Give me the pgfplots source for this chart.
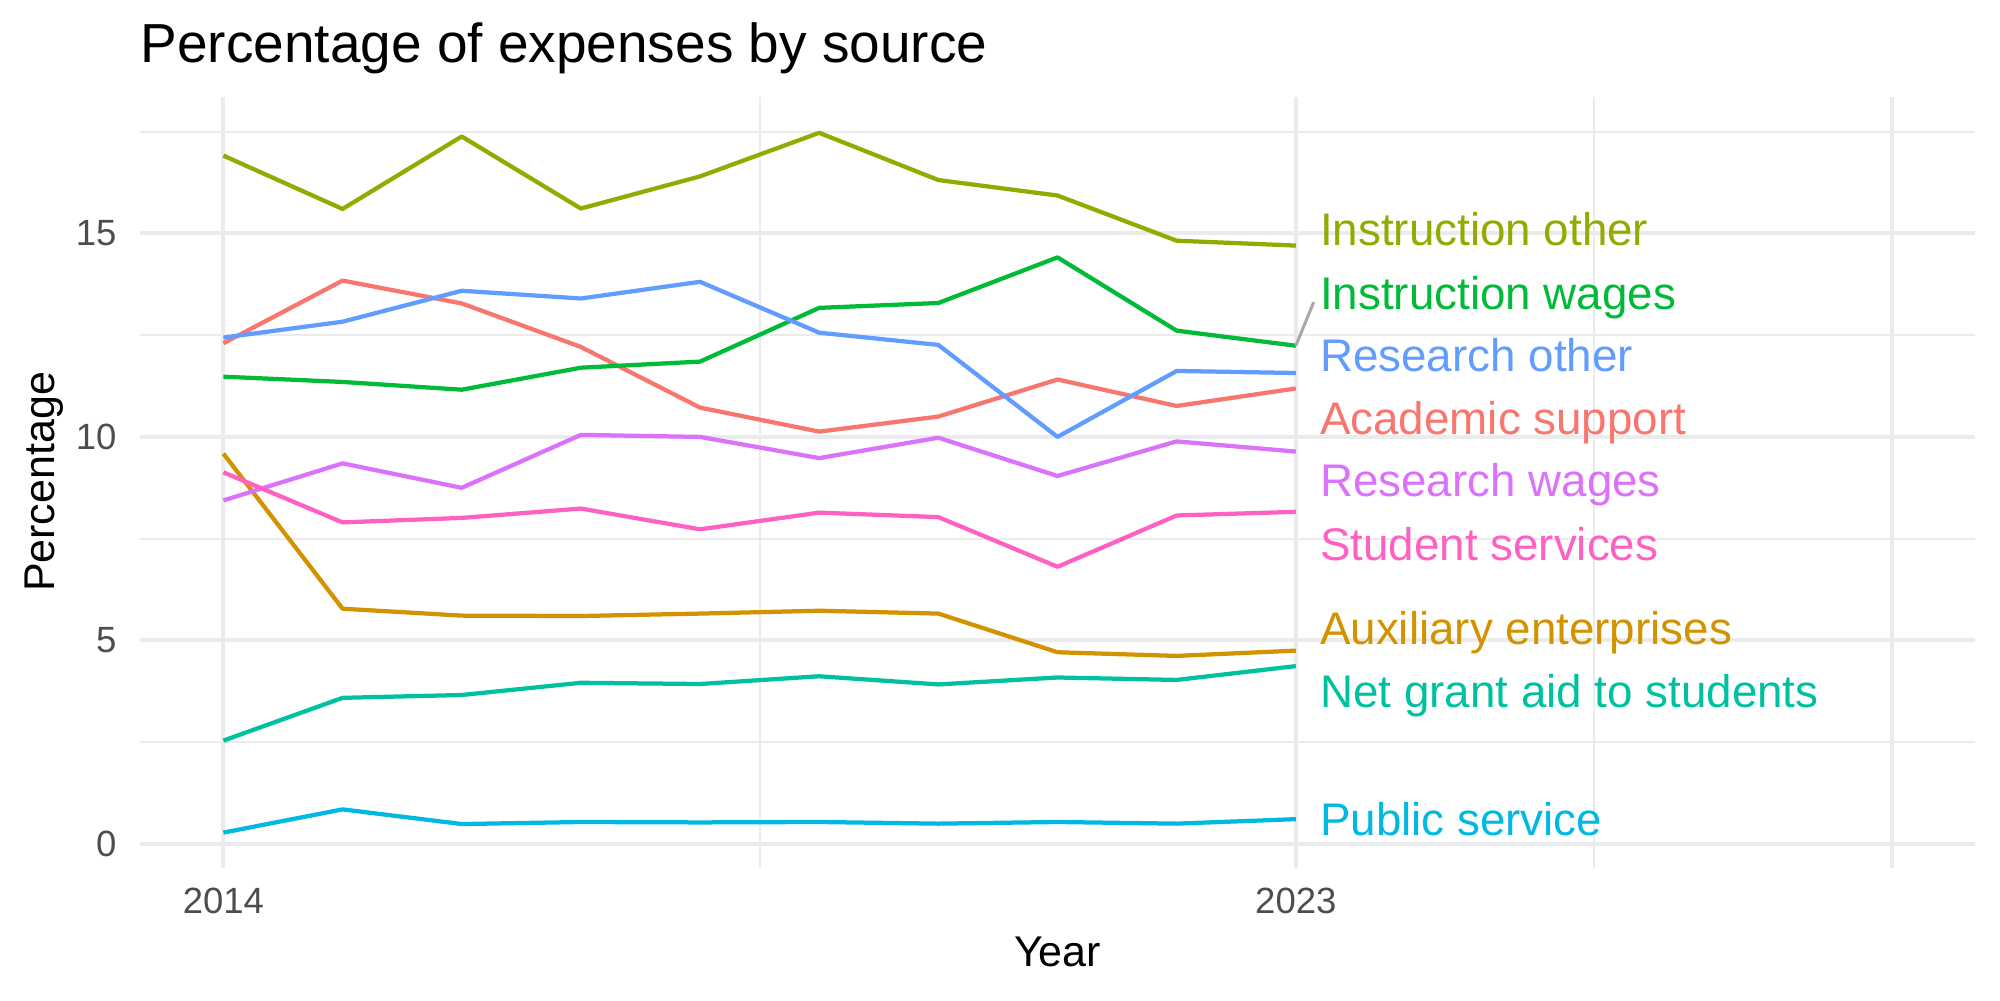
\documentclass[border=0pt]{standalone}
\usepackage{fontspec}
\setmainfont{Liberation Sans}
\usepackage{pgfplots}
\usepackage{pgfplotstable}
\pgfplotsset{compat=1.18}

% ggplot hue palette, one colour per expense source
\definecolor{acad}{HTML}{F8766D}
\definecolor{aux}{HTML}{D39200}
\definecolor{instoth}{HTML}{93AA00}
\definecolor{instwage}{HTML}{00BA38}
\definecolor{netgrant}{HTML}{00C19F}
\definecolor{pubserv}{HTML}{00B9E3}
\definecolor{resoth}{HTML}{619CFF}
\definecolor{reswage}{HTML}{DB72FB}
\definecolor{studserv}{HTML}{FF61C3}
\definecolor{gridgray}{HTML}{EBEBEB}
\definecolor{tickgray}{HTML}{4D4D4D}
\definecolor{repelgray}{HTML}{A8A8A8}

% Share of expenses (%) by source and year
\pgfplotstableread{
year acad  aux  instoth instwage netgrant pubserv resoth reswage studserv
2014 12.30 9.59 16.91   11.48    2.54     0.28    12.44  8.44    9.13
2015 13.84 5.78 15.60   11.35    3.59     0.85    12.83  9.35    7.90
2016 13.28 5.61 17.38   11.16    3.66     0.49    13.59  8.75    8.01
2017 12.21 5.60 15.61   11.70    3.96     0.54    13.40  10.05   8.24
2018 10.72 5.66 16.40   11.85    3.93     0.53    13.81  10.00   7.73
2019 10.13 5.73 17.47   13.17    4.12     0.54    12.56  9.48    8.14
2020 10.50 5.66 16.31   13.29    3.92     0.50    12.26  9.98    8.03
2021 11.41 4.71 15.93   14.41    4.09     0.54    10.00  9.04    6.81
2022 10.76 4.62 14.82   12.61    4.03     0.50    11.62  9.89    8.07
2023 11.19 4.75 14.70   12.24    4.37     0.61    11.57  9.64    8.16
}\expenses

\newcommand{\labfont}{\fontsize{18.3}{21}\selectfont}
\newcommand{\tickfont}{\fontsize{14.6}{17}\selectfont}

\begin{document}
\begin{tikzpicture}
\path[use as bounding box] (0pt,0pt) rectangle (800pt,400pt);
\begin{axis}[
  at={(56pt,52.8pt)}, anchor=south west,
  scale only axis, width=734pt, height=308.4pt,
  xmin=2013.3, xmax=2028.7, ymin=-0.59, ymax=18.35,
  clip=false,
  axis line style={draw=none},
  major tick length=0pt, minor tick length=0pt,
  xtick={2014,2023,2028}, xticklabels={2014,2023,},
  minor xtick={2018.5,2025.5},
  ytick={0,5,10,15},
  minor ytick={2.5,7.5,12.5,17.5},
  grid=both,
  major grid style={draw=gridgray, line width=1.6pt},
  minor grid style={draw=gridgray, line width=0.8pt},
  /pgf/number format/assume math mode=true,
  xticklabel style={font=\tickfont, text=tickgray, anchor=north, inner sep=0pt, yshift=-8pt},
  yticklabel style={font=\tickfont, text=tickgray, anchor=east, inner sep=0pt, xshift=-9.2pt},
  every axis plot/.append style={line width=1.7pt, line join=round, line cap=butt, no markers},
]
\addplot[acad]     table[x=year, y=acad]     {\expenses};
\addplot[aux]      table[x=year, y=aux]      {\expenses};
\addplot[instoth]  table[x=year, y=instoth]  {\expenses};
\addplot[instwage] table[x=year, y=instwage] {\expenses};
\addplot[netgrant] table[x=year, y=netgrant] {\expenses};
\addplot[pubserv]  table[x=year, y=pubserv]  {\expenses};
\addplot[resoth]   table[x=year, y=resoth]   {\expenses};
\addplot[reswage]  table[x=year, y=reswage]  {\expenses};
\addplot[studserv] table[x=year, y=studserv] {\expenses};

% leader segment for the displaced label
\addplot[repelgray, line width=1.2pt] coordinates {(2023,12.24) (2023.15,13.31)};

% direct labels at the end of each line
\node[anchor=base west, inner sep=0pt, text=instoth,  font=\labfont] at (axis cs:2023.2,14.70) {Instruction other};
\node[anchor=base west, inner sep=0pt, text=instwage, font=\labfont] at (axis cs:2023.2,13.14) {Instruction wages};
\node[anchor=base west, inner sep=0pt, text=resoth,   font=\labfont] at (axis cs:2023.2,11.61) {Research other};
\node[anchor=base west, inner sep=0pt, text=acad,     font=\labfont] at (axis cs:2023.2,10.06) {Academic support};
\node[anchor=base west, inner sep=0pt, text=reswage,  font=\labfont] at (axis cs:2023.2,8.54) {Research wages};
\node[anchor=base west, inner sep=0pt, text=studserv, font=\labfont] at (axis cs:2023.2,6.97) {Student services};
\node[anchor=base west, inner sep=0pt, text=aux,      font=\labfont] at (axis cs:2023.2,4.89) {Auxiliary enterprises};
\node[anchor=base west, inner sep=0pt, text=netgrant, font=\labfont] at (axis cs:2023.2,3.36) {Net grant aid to students};
\node[anchor=base west, inner sep=0pt, text=pubserv,  font=\labfont] at (axis cs:2023.2,0.21) {Public service};
\end{axis}

\node[anchor=base west, inner sep=0pt, font=\fontsize{22}{26}\selectfont] at (56pt,374.9pt) {Percentage of expenses by source};
\node[anchor=base, inner sep=0pt, font=\fontsize{17.2}{20}\selectfont] at (423pt,13.3pt) {Year};
\node[anchor=base, rotate=90, inner sep=0pt, font=\fontsize{17.2}{20}\selectfont] at (21.6pt,207.2pt) {Percentage};
\end{tikzpicture}
\end{document}
